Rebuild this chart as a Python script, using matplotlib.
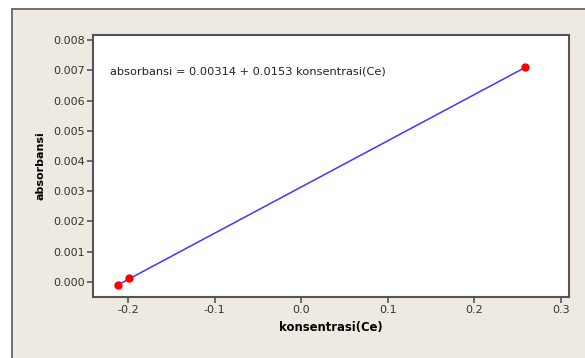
import matplotlib.pyplot as plt
from matplotlib.patches import Rectangle

# data
konsentrasi = [-0.2115, -0.1985, 0.2585]
absorbansi = [-0.00011, 0.00012, 0.00712]
intercept = 0.00314
slope = 0.0153
x_ticks = [-0.2, -0.1, 0.0, 0.1, 0.2, 0.3]
y_ticks = [0.000, 0.001, 0.002, 0.003, 0.004, 0.005, 0.006, 0.007, 0.008]

fig = plt.figure(figsize=(5.85, 3.58), dpi=100)
fig.patch.set_facecolor('white')

# beige panel with gray border
W, H = 585.0, 358.0
panel = Rectangle((12 / W, -0.01), 1 - 12 / W + 0.01, (H - 9) / H + 0.01, transform=fig.transFigure,
                  facecolor='#EEEAE1', edgecolor='#707070', linewidth=1.4, zorder=-5)
fig.add_artist(panel)

ax = fig.add_axes([93 / W, 1 - 297 / H, (569 - 93) / W, (297 - 35) / H])
ax.set_facecolor('white')

# regression line over the data range
x_line = [min(konsentrasi), max(konsentrasi)]
y_line = [intercept + slope * x for x in x_line]
ax.plot(x_line, y_line, color='#3a3aff', linewidth=1.1, zorder=2)
ax.plot(konsentrasi, absorbansi, 'o', color='#ff0000', markersize=5, zorder=3)

ax.set_xlim(-0.2404, 0.3092)
ax.set_ylim(-0.0005, 0.00817)
ax.set_xticks(x_ticks)
ax.set_xticklabels(['-0.2', '-0.1', '0.0', '0.1', '0.2', '0.3'])
ax.set_yticks(y_ticks)
ax.set_yticklabels(['%.3f' % v for v in y_ticks])

for s in ax.spines.values():
    s.set_color('#555555')
    s.set_linewidth(1.5)
ax.tick_params(direction='out', length=4, width=1.2, color='#555555',
               labelsize=8, labelcolor='#333333', pad=2)

ax.set_xlabel('konsentrasi(Ce)', fontsize=8.4, fontweight='bold', labelpad=4)
ax.set_ylabel('absorbansi', fontsize=8.0, fontweight='bold', labelpad=5)

ax.text(0.035, 0.86, 'absorbansi = 0.00314 + 0.0153 konsentrasi(Ce)',
        transform=ax.transAxes, fontsize=8.2, color='#222222', va='center')

fig.savefig('out.png', dpi=100)
